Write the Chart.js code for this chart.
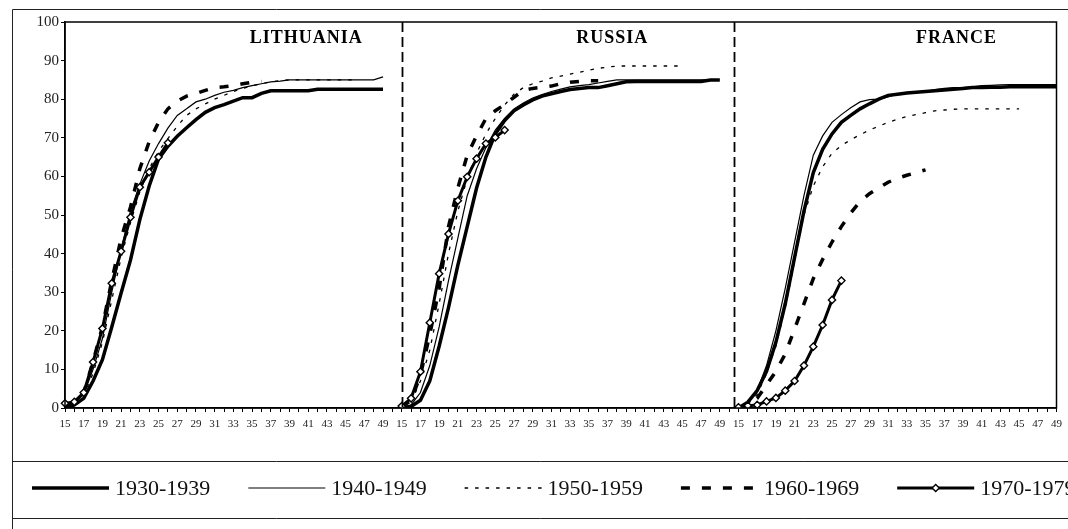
<!DOCTYPE html>
<html>
<head>
<meta charset="utf-8">
<script src="https://cdn.jsdelivr.net/npm/chart.js@4.4.1/dist/chart.umd.min.js"></script>
<style>
  html, body { margin: 0; padding: 0; background: #fff; overflow: hidden; }
  #wrap { width: 1068px; height: 529px; position: relative; }
</style>
</head>
<body>
<div id="wrap"><canvas id="chart"></canvas></div>
<script>
const countries = ["LITHUANIA", "RUSSIA", "FRANCE"];
const ages = [15, 16, 17, 18, 19, 20, 21, 22, 23, 24, 25, 26, 27, 28, 29, 30, 31, 32,
  33, 34, 35, 36, 37, 38, 39, 40, 41, 42, 43, 44, 45, 46, 47, 48, 49];
const cohorts = ["1930-1939", "1940-1949", "1950-1959", "1960-1969", "1970-1979"];
const yTicks = [0, 10, 20, 30, 40, 50, 60, 70, 80, 90, 100];

// cumulative % by age, starting at age 15 (shorter cohorts stop earlier)
const lt1930 = [0, 0.8, 2.5, 7, 12.5, 21, 29.8, 38.3, 48.8, 57.5, 64.5, 67.8, 70.4, 72.6, 74.7, 76.6, 77.8, 78.6,
  79.5, 80.4, 80.4, 81.5, 82.2, 82.2, 82.2, 82.2, 82.2, 82.6, 82.6, 82.6, 82.6, 82.6, 82.6, 82.6, 82.6];
const lt1940 = [0.5, 1.2, 3.5, 10, 18, 30, 41, 51, 58, 64, 68.5, 72.5, 75.8, 77.5, 79.3, 80, 81, 81.8,
  82.3, 83, 83.5, 84, 84.5, 84.7, 85, 85, 85, 85, 85, 85, 85, 85, 85, 85, 85.8];
const lt1950 = [0.3, 1, 3, 9, 17, 28, 39, 48, 56, 62, 66.5, 69.8, 73, 75.8, 77.5, 78.8, 80, 81,
  82, 82.8, 83.5, 84, 84.5, 84.8, 85, 85, 85, 85, 85, 85, 85, 85];
const lt1960 = [0.5, 1.5, 4, 12, 21, 33, 44, 52, 62, 69, 74, 77.5, 79.5, 80.8, 81.5, 82.3, 83, 83.2,
  83.5, 84, 84.4, 84.6];
const lt1970 = [1.2, 1.6, 4.0, 11.9, 20.6, 32.3, 40.6, 49.4, 57.2, 61.1, 65.0, 68.7];

const ru1930 = [0, 0.4, 2, 7, 16, 26, 37, 47, 57, 65, 71, 74.5, 77, 78.5, 79.8, 80.8, 81.4, 82,
  82.5, 82.8, 83, 83, 83.5, 84, 84.5, 84.6, 84.6, 84.6, 84.6, 84.6, 84.6, 84.6, 84.6, 85, 85];
const ru1940 = [0, 0.8, 4, 11, 21, 33, 44, 55, 62, 67.5, 72, 75, 77.5, 79, 80.3, 81.2, 82, 82.6,
  83.2, 83.5, 83.8, 84.2, 84.6, 85, 85, 85, 85, 85, 85, 85, 85, 85, 85, 85, 85];
const ru1950 = [0.2, 1.5, 7, 15, 27, 40, 51, 59.5, 66, 71, 75, 78.5, 81.3, 83, 84, 84.7, 85.5, 86,
  86.5, 87, 87.5, 88, 88.3, 88.6, 88.6, 88.6, 88.6, 88.6, 88.6, 88.6, 88.6];
const ru1960 = [0.2, 2, 8.5, 19, 31, 47, 57, 65.5, 70.5, 75, 77, 78.6, 80.5, 82.3, 82.8, 83.1, 83.4, 84,
  84.4, 84.6, 84.8, 84.8];
const ru1970 = [0.5, 2.5, 9.4, 22.1, 34.8, 45.1, 53.7, 59.9, 64.6, 68.5, 70.1, 72.0];

const fr1930 = [0, 1.5, 4.5, 9.5, 17, 27, 39, 51, 61, 67, 71, 74, 75.8, 77.5, 78.8, 80, 81, 81.3,
  81.6, 81.8, 82, 82.2, 82.4, 82.6, 82.8, 83, 83, 83.1, 83.1, 83.2, 83.2, 83.2, 83.2, 83.2, 83.2];
const fr1940 = [0, 1.5, 4.5, 11, 20, 31, 43, 55, 65.5, 70.5, 74, 76, 77.8, 79.3, 79.9, 80, 80.6, 81.3,
  81.6, 81.8, 82, 82.5, 82.8, 83, 83, 83.2, 83.5, 83.6, 83.7, 83.8, 83.8, 83.8, 83.8, 83.8, 83.8];
const fr1950 = [0, 1, 3.5, 9, 16, 26, 38, 50, 57.5, 62.5, 66, 68, 69.5, 70.8, 72, 73, 74, 74.8,
  75.5, 76, 76.5, 77, 77.2, 77.4, 77.5, 77.5, 77.5, 77.5, 77.5, 77.5, 77.5];
const fr1960 = [0, 0.8, 2.5, 6, 9.5, 14, 20.5, 27, 33.5, 38.5, 43, 47, 50.5, 53.5, 55.5, 57, 58.5, 59.5,
  60.3, 61, 61.7];
const fr1970 = [0.2, 0.6, 0.8, 1.7, 2.6, 4.5, 7.0, 11.0, 15.9, 21.5, 28.0, 33.0];

const series = [
  [lt1930, ru1930, fr1930],
  [lt1940, ru1940, fr1940],
  [lt1950, ru1950, fr1950],
  [lt1960, ru1960, fr1960],
  [lt1970, ru1970, fr1970]
];

// line looks, one per cohort
const widths = [3.5, 1.2, 1.3, 3.5, 3];
const dashes = [[], [], [3.5, 7], [9, 12], []];

// one empty category between panels
const labels = [];
countries.forEach((c, i) => {
  if (i > 0) labels.push("");
  ages.forEach((a) => labels.push(String(a)));
});

function joinPanels(parts) {
  const out = [];
  parts.forEach((p, i) => {
    if (i > 0) out.push(null);
    ages.forEach((a, j) => out.push(j < p.length ? p[j] : null));
  });
  return out;
}

const serif = "'Liberation Serif', 'Times New Roman', serif";
const panelLen = ages.length + 1;
const separatorsAt = [panelLen, 2 * panelLen - 0.5];
const titleAt = [25.8, 58.5, 95.3];

const datasets = cohorts.map((name, i) => ({
  label: name,
  data: joinPanels(series[i]),
  borderColor: "#000",
  backgroundColor: "#fff",
  borderWidth: widths[i],
  borderDash: dashes[i],
  pointRadius: i === 4 ? 3.6 : 0,
  pointStyle: "rectRot",
  pointBorderColor: "#000",
  pointBackgroundColor: "#fff",
  pointBorderWidth: 1.4,
  tension: 0,
  spanGaps: false,
  order: cohorts.length - 1 - i
}));

const framePlugin = {
  id: "frame",
  beforeDraw(chart) {
    const ctx = chart.ctx;
    ctx.save();
    ctx.fillStyle = "#fff";
    ctx.fillRect(0, 0, chart.width, chart.height);
    ctx.restore();
  },
  afterDraw(chart) {
    const { ctx, chartArea: a, scales } = chart;
    const x = scales.x, y = scales.y;
    ctx.save();

    // outer frame and legend box
    ctx.strokeStyle = "#222";
    ctx.lineWidth = 1;
    ctx.beginPath();
    ctx.moveTo(12.5, chart.height);
    ctx.lineTo(12.5, 9.5);
    ctx.lineTo(chart.width, 9.5);
    ctx.moveTo(12.5, 461.5);
    ctx.lineTo(chart.width, 461.5);
    ctx.moveTo(12.5, 518.5);
    ctx.lineTo(chart.width, 518.5);
    ctx.stroke();

    // plot border
    ctx.strokeStyle = "#000";
    ctx.lineWidth = 1.5;
    ctx.strokeRect(a.left, a.top, a.right - a.left, a.bottom - a.top);

    // dashed panel separators
    ctx.lineWidth = 1.8;
    ctx.setLineDash([10, 5]);
    separatorsAt.forEach((v) => {
      const px = Math.round(x.getPixelForValue(v)) + 0.5;
      ctx.beginPath();
      ctx.moveTo(px, a.top);
      ctx.lineTo(px, a.bottom);
      ctx.stroke();
    });
    ctx.setLineDash([]);

    // panel titles
    ctx.fillStyle = "#000";
    ctx.font = "bold 18px " + serif;
    ctx.textAlign = "center";
    ctx.textBaseline = "middle";
    if ("letterSpacing" in ctx) ctx.letterSpacing = "1px";
    countries.forEach((c, i) => {
      ctx.fillText(c, x.getPixelForValue(titleAt[i]), y.getPixelForValue(95.7));
    });
    if ("letterSpacing" in ctx) ctx.letterSpacing = "0px";

    // legend
    const x0 = 32, step = 216.3, len = 77, ly = 488;
    ctx.font = "22px " + serif;
    ctx.textAlign = "left";
    chart.data.datasets.forEach((ds, i) => {
      const lx = x0 + i * step;
      ctx.strokeStyle = "#000";
      ctx.lineWidth = ds.borderWidth;
      ctx.setLineDash(ds.borderDash || []);
      ctx.beginPath();
      ctx.moveTo(lx, ly);
      ctx.lineTo(lx + len, ly);
      ctx.stroke();
      ctx.setLineDash([]);
      if (ds.pointRadius > 0) {
        const cx = lx + len / 2, r = ds.pointRadius;
        ctx.beginPath();
        ctx.moveTo(cx, ly - r);
        ctx.lineTo(cx + r, ly);
        ctx.lineTo(cx, ly + r);
        ctx.lineTo(cx - r, ly);
        ctx.closePath();
        ctx.fillStyle = "#fff";
        ctx.fill();
        ctx.lineWidth = ds.pointBorderWidth;
        ctx.stroke();
      }
      ctx.fillStyle = "#111";
      ctx.fillText(ds.label, lx + len + 6, ly + 1);
    });
    ctx.restore();
  }
};

const myChart = new Chart(document.getElementById("chart"), {
  type: "line",
  data: { labels: labels, datasets: datasets },
  plugins: [framePlugin],
  options: {
    responsive: true,
    maintainAspectRatio: false,
    animation: false,
    layout: { padding: { left: 0, top: 22, right: 10, bottom: 0 } },
    plugins: {
      legend: { display: false },
      tooltip: { enabled: false }
    },
    scales: {
      x: {
        type: "category",
        offset: false,
        afterFit: (s) => { s.height = 121; },
        grid: { drawOnChartArea: false, drawTicks: true, tickLength: 4, color: "#000", offset: false },
        border: { color: "#000", width: 1.5 },
        ticks: {
          autoSkip: false,
          maxRotation: 0,
          minRotation: 0,
          padding: 6,
          color: "#222",
          font: { family: serif, size: 11 },
          callback: function (value) {
            const lab = this.getLabelForValue(value);
            return lab !== "" && Number(lab) % 2 === 1 ? lab : "";
          }
        }
      },
      y: {
        min: yTicks[0],
        max: yTicks[yTicks.length - 1],
        afterFit: (s) => { s.width = 65; },
        afterBuildTicks: (s) => { s.ticks = yTicks.map((v) => ({ value: v })); },
        grid: { drawOnChartArea: false, drawTicks: true, tickLength: 4, color: "#000" },
        border: { color: "#000", width: 1.5 },
        ticks: {
          padding: 2,
          color: "#222",
          font: { family: serif, size: 15 }
        }
      }
    }
  }
});
</script>
</body>
</html>
